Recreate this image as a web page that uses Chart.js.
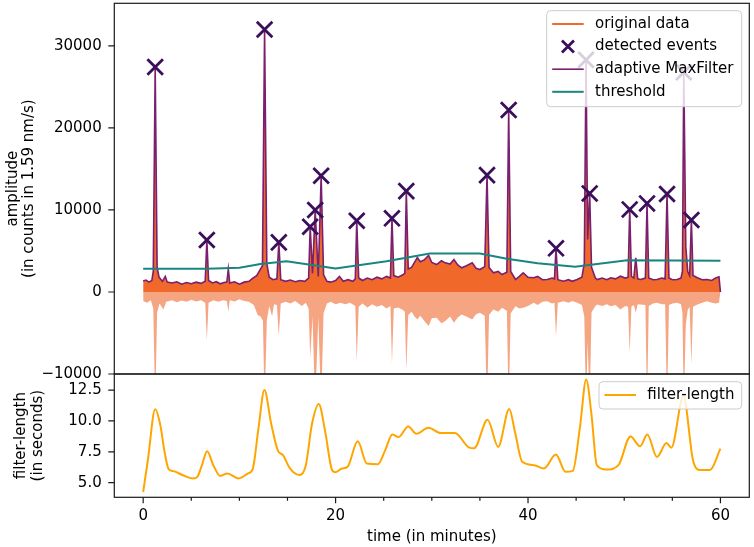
<!DOCTYPE html>
<html>
<head>
<meta charset="utf-8">
<title>adaptive MaxFilter event detection</title>
<script src="https://cdn.jsdelivr.net/npm/chart.js@4.4.1/dist/chart.umd.min.js"></script>
<style>
  html, body { margin: 0; padding: 0; background: #fff; }
  #wrap { position: relative; width: 754px; height: 547px; }
  #wrap canvas { position: absolute; left: 0; top: 0; }
</style>
</head>
<body>
<div id="wrap">
  <canvas id="amplitudeChart" width="754" height="547"></canvas>
  <canvas id="filterChart" width="754" height="547"></canvas>
</div>
<script>
// Dados (tempo em minutos)

// envelope superior do sinal = adaptive MaxFilter  [minuto, amplitude]
const maxFilterAmp = [
  [0.0, 1350], [0.3, 1450], [0.6, 1200], [0.9, 1400], [1.05, 2500], [1.25, 27400], [1.45, 3000], [1.65, 1800],
  [2.0, 1300], [2.3, 1900], [2.5, 1200], [3.0, 1100], [3.5, 1250], [4.0, 950], [4.5, 1150], [5.0, 1000],
  [5.5, 1200], [6.0, 1050], [6.45, 1300], [6.62, 6330], [6.8, 1400], [7.2, 1100], [7.6, 1250], [8.0, 1000],
  [8.4, 1150], [8.7, 1200], [8.85, 2800], [9.0, 1100], [9.5, 1250], [10.0, 950], [10.5, 1200], [11.0, 1300],
  [11.4, 1700], [11.8, 2000], [12.1, 2600], [12.4, 3200], [12.62, 32000], [12.85, 3500], [13.1, 1800], [13.5, 1500],
  [13.9, 1600], [14.1, 6050], [14.3, 1500], [14.8, 1300], [15.3, 1450], [15.8, 1250], [16.3, 1400], [16.8, 1300],
  [17.2, 1700], [17.36, 7950], [17.6, 2300], [17.88, 10000], [18.2, 1900], [18.5, 14170], [18.75, 2100], [19.1, 1300],
  [19.5, 1200], [20.0, 1400], [20.4, 1900], [20.8, 1300], [21.3, 1500], [21.8, 1300], [22.05, 1600], [22.2, 8690],
  [22.4, 1700], [22.8, 1400], [23.3, 1700], [23.8, 1500], [24.3, 1800], [24.8, 1600], [25.3, 1900], [25.7, 1700],
  [25.86, 8980], [26.05, 2000], [26.5, 1800], [27.0, 2100], [27.2, 2300], [27.35, 12300], [27.55, 2800], [27.9, 3000],
  [28.2, 3600], [28.5, 4200], [28.8, 3700], [29.2, 3900], [29.67, 4450], [30.0, 3600], [30.5, 3350], [31.0, 3800],
  [31.4, 3550], [31.9, 3400], [32.3, 3960], [32.7, 3300], [33.1, 2950], [33.6, 3200], [34.2, 3550], [34.6, 2900],
  [35.0, 2740], [35.5, 3100], [35.74, 14250], [35.95, 3000], [36.4, 2340], [36.9, 2500], [37.3, 2130], [37.8, 2400],
  [37.99, 22200], [38.2, 2500], [38.7, 1520], [39.1, 1900], [39.5, 2340], [40.0, 1800], [40.6, 1730], [41.0, 1900],
  [41.5, 1500], [42.0, 1520], [42.5, 1700], [42.75, 1600], [42.91, 5320], [43.1, 1500], [43.7, 1320], [44.2, 1500],
  [44.6, 1300], [45.1, 1520], [45.6, 1800], [45.85, 3500], [46.03, 28300], [46.2, 6400], [46.41, 12020], [46.6, 3000],
  [47.0, 1700], [47.2, 1520], [47.7, 1700], [48.2, 1500], [48.6, 1730], [49.1, 1600], [49.6, 1930], [50.1, 1700],
  [50.4, 1800], [50.57, 10070], [50.75, 1900], [51.0, 1700], [51.2, 4160], [51.4, 1600], [51.7, 1520], [52.2, 1700],
  [52.37, 10800], [52.55, 1700], [53.0, 1500], [53.4, 1520], [53.9, 1700], [54.25, 1600], [54.45, 11940], [54.65, 1700],
  [55.0, 1500], [55.5, 1520], [55.9, 1700], [56.05, 2500], [56.19, 27000], [56.4, 5500], [56.6, 2500], [56.8, 2000],
  [56.98, 8770], [57.15, 2000], [57.6, 1730], [58.1, 1500], [58.6, 1520], [59.1, 1400], [59.5, 1700], [59.85, 1850],
  [60.0, 0]
];

// envelope inferior do sinal original  [minuto, amplitude]
const negativeAmp = [
  [0.0, -1100], [0.4, -1300], [0.8, -1000], [1.05, -2000], [1.25, -14000], [1.45, -2500], [1.7, -1400], [2.1, -2130],
  [2.4, -1200], [3.0, -1000], [3.5, -1250], [4.0, -1050], [4.5, -1200], [5.0, -950], [5.5, -1150], [6.0, -1000],
  [6.45, -1300], [6.62, -5850], [6.8, -1300], [7.3, -1000], [7.8, -1200], [8.3, -1000], [8.7, -1100], [8.85, -2400],
  [9.0, -1000], [9.5, -1150], [10.0, -900], [10.5, -1100], [11.0, -1200], [11.5, -1600], [11.9, -2800], [12.2, -3000],
  [12.45, -3500], [12.62, -14000], [12.85, -3500], [13.1, -1700], [13.4, -2950], [13.6, -1500], [13.9, -1600], [14.1, -5380],
  [14.3, -1400], [14.8, -1200], [15.3, -1400], [15.8, -1100], [16.5, -1700], [16.9, -1300], [17.2, -2000], [17.36, -8050],
  [17.6, -3000], [17.88, -14000], [18.2, -3000], [18.5, -14000], [18.75, -2600], [19.1, -1400], [19.5, -1200], [20.0, -1500],
  [20.5, -1300], [21.0, -1500], [21.5, -1300], [22.05, -1700], [22.2, -8490], [22.4, -1800], [22.8, -1400], [23.3, -1900],
  [23.8, -1500], [24.3, -1800], [24.8, -1600], [25.3, -2000], [25.7, -1700], [25.86, -8690], [26.05, -2000], [26.5, -1900],
  [27.0, -2200], [27.2, -2400], [27.35, -9600], [27.55, -2800], [27.9, -2400], [28.2, -3000], [28.5, -3350], [28.8, -2900],
  [29.2, -3500], [29.67, -4160], [30.0, -3200], [30.5, -3150], [31.0, -3800], [31.4, -3550], [31.9, -3000], [32.3, -3750],
  [32.7, -3100], [33.1, -2740], [33.6, -3000], [34.2, -3350], [34.6, -2700], [35.0, -2540], [35.5, -2900], [35.74, -14000],
  [35.95, -2800], [36.4, -2130], [36.9, -2400], [37.3, -1930], [37.8, -2300], [37.99, -14000], [38.2, -2600], [38.7, -1730],
  [39.1, -2000], [39.5, -1930], [40.0, -1700], [40.6, -1320], [41.0, -1600], [41.5, -1200], [42.0, -1120], [42.5, -1400],
  [42.75, -1300], [42.91, -5400], [43.1, -1300], [43.7, -1120], [44.2, -1300], [44.6, -1100], [45.1, -1300], [45.6, -1600],
  [45.85, -3000], [46.03, -14000], [46.2, -6000], [46.41, -14000], [46.6, -2500], [47.0, -1700], [47.2, -1520], [47.7, -1700],
  [48.2, -1500], [48.6, -1730], [49.1, -1600], [49.6, -2130], [50.1, -1700], [50.4, -1800], [50.57, -7400], [50.75, -1800],
  [51.0, -1600], [51.2, -2500], [51.4, -1500], [51.7, -1520], [52.2, -1600], [52.37, -14000], [52.55, -1700], [53.0, -1400],
  [53.4, -1320], [53.9, -1500], [54.25, -1500], [54.45, -14000], [54.65, -1600], [55.0, -1400], [55.5, -1320], [55.9, -1500],
  [56.05, -2500], [56.19, -14000], [56.4, -4000], [56.6, -2200], [56.8, -1800], [56.98, -8830], [57.15, -1800], [57.6, -1520],
  [58.1, -1300], [58.6, -1120], [59.1, -1300], [59.5, -1400], [59.85, -1300], [60.0, 0]
];

// eventos detectados
const eventTimes = [1.25, 6.62, 12.62, 14.1, 17.36, 17.88, 18.5, 22.2, 25.86, 27.35,
                    35.74, 37.99, 42.91, 46.03, 46.41, 50.57, 52.37, 54.45, 56.19, 56.98];
const eventAmps = [27440, 6330, 32000, 6050, 7950, 10000, 14170, 8690, 8980, 12300,
                   14250, 22200, 5320, 28300, 12020, 10070, 10800, 11940, 26800, 8770];

// limiar  [minuto, amplitude]
const thresholdAmp = [
  [0, 2830], [6.6, 2830], [10, 2950], [12.2, 3400], [14.9, 3750], [20.0, 2860], [25.3, 3750],
  [29.8, 4700], [35.0, 4700], [37.8, 4050], [41.0, 3500], [44.9, 3070], [50.3, 3870], [60, 3800]
];

// comprimento do filtro  [minuto, segundos]
const filterLength = [
  [0, 4.25], [0.5, 6.9], [1.25, 10.95], [1.8, 9.6], [2.2, 7.6], [2.65, 6.1], [3.15, 5.94], [4.15, 5.6],
  [5.15, 5.35], [5.65, 5.5], [6.1, 6.4], [6.65, 7.55], [7.3, 6.4], [8.0, 5.55], [8.75, 5.75], [9.9, 5.35],
  [10.9, 5.75], [11.4, 6.15], [12.0, 9.5], [12.6, 12.5], [13.3, 9.8], [14.0, 7.6], [14.55, 7.22], [15.15, 6.29],
  [15.65, 5.83], [16.25, 5.62], [16.9, 6.4], [17.55, 9.77], [18.25, 11.38], [18.9, 9.23], [19.65, 6.0], [20.0, 5.85],
  [20.65, 6.15], [21.25, 6.3], [22.3, 8.35], [23.25, 6.55], [24.4, 6.5], [25.15, 7.62], [25.9, 8.9], [26.55, 8.7],
  [27.55, 9.55], [28.4, 8.96], [29.65, 9.45], [30.9, 9.02], [32.4, 9.02], [33.9, 7.84], [34.4, 7.79], [35.8, 10.09],
  [36.9, 7.9], [38.05, 10.97], [38.65, 9.1], [39.4, 6.69], [40.65, 6.42], [41.65, 6.15], [42.9, 7.28], [43.9, 5.88],
  [44.65, 5.96], [45.4, 9.5], [46.05, 13.35], [46.6, 10.5], [47.15, 6.42], [48.15, 6.07], [49.4, 6.42], [50.65, 8.75],
  [51.65, 7.95], [52.4, 8.9], [53.4, 7.09], [54.4, 8.21], [54.9, 7.84], [56.15, 12.0], [57.15, 6.82], [57.9, 6.02],
  [58.9, 6.02], [60, 7.76]
];

// ticks
const timeTicks = [0, 20, 40, 60];
const timeMinorTicks = [5, 10, 15, 25, 30, 35, 45, 50, 55];
const ampTicks = [-10000, 0, 10000, 20000, 30000];
const lengthTicks = [5.0, 7.5, 10.0, 12.5];

// Layout (pixels)
const W = 754, H = 547;
const PLOT_LEFT = 114.3, PLOT_RIGHT = 749.3;
const TOP_Y = 3.3, SPLIT_Y = 374, BOTTOM_Y = 497.3;
const FONT_SIZE = 15;

const COLORS = {
  pos: '#f0692a',
  neg: '#f5a582',
  maxFilter: '#7b1f6f',
  events: '#3b0f5c',
  threshold: '#1a8482',
  filter: '#ffa500'
};

Chart.defaults.font.family = "'DejaVu Sans'";
Chart.defaults.font.size = FONT_SIZE;
Chart.defaults.color = '#000';

const toXY = pairs => pairs.map(([x, y]) => ({ x, y }));

// sem padding automático dos rótulos
function noLabelPadding(s) {
  s.paddingTop = 0; s.paddingBottom = 0; s.paddingLeft = 0; s.paddingRight = 0;
}

function drawLegend(ctx, area, lg) {
  const left = area.right - lg.right - lg.width;
  const top = area.top + lg.top;
  ctx.save();
  ctx.beginPath();
  ctx.roundRect(left, top, lg.width, lg.height, 4);
  ctx.fillStyle = 'rgba(255,255,255,0.8)';
  ctx.fill();
  ctx.strokeStyle = '#cccccc';
  ctx.lineWidth = 1;
  ctx.stroke();
  ctx.font = FONT_SIZE + "px 'DejaVu Sans'";
  ctx.textBaseline = 'middle';
  lg.items.forEach((item, i) => {
    const cy = top + 13.3 + i * 22.6;
    const x0 = left + 5.5, x1 = left + 37;
    ctx.strokeStyle = item.color;
    ctx.lineWidth = item.width;
    ctx.beginPath();
    if (item.marker) {
      const cx = (x0 + x1) / 2, h = 6;
      ctx.moveTo(cx - h, cy - h); ctx.lineTo(cx + h, cy + h);
      ctx.moveTo(cx + h, cy - h); ctx.lineTo(cx - h, cy + h);
    } else {
      ctx.moveTo(x0, cy); ctx.lineTo(x1, cy);
    }
    ctx.stroke();
    ctx.fillStyle = '#000';
    ctx.fillText(item.label, left + 48.3, cy);
  });
  ctx.restore();
}

// moldura, ticks e legenda no estilo matplotlib
const axesFrame = {
  id: 'axesFrame',
  afterDraw(chart, args, opts) {
    const { ctx, chartArea: area, scales } = chart;
    ctx.save();
    ctx.strokeStyle = '#1a1a1a';
    ctx.lineWidth = 1.2;
    ctx.beginPath();
    scales.y.ticks.forEach(t => {
      const py = scales.y.getPixelForValue(t.value);
      ctx.moveTo(area.left - 6, py);
      ctx.lineTo(area.left, py);
    });
    if (opts.xTicks) {
      timeTicks.forEach(v => {
        const px = scales.x.getPixelForValue(v);
        ctx.moveTo(px, area.bottom);
        ctx.lineTo(px, area.bottom + 6);
      });
      timeMinorTicks.forEach(v => {
        const px = scales.x.getPixelForValue(v);
        ctx.moveTo(px, area.bottom);
        ctx.lineTo(px, area.bottom + 3.5);
      });
    }
    ctx.stroke();
    ctx.strokeRect(area.left, area.top, area.right - area.left, area.bottom - area.top);
    ctx.restore();
    drawLegend(ctx, area, opts.legend);
  }
};

const hiddenGrid = { display: true, drawOnChartArea: false, drawTicks: true, tickLength: 6, color: 'rgba(0,0,0,0)' };

// Gráfico superior: amplitude
new Chart(document.getElementById('amplitudeChart'), {
  type: 'line',
  data: {
    datasets: [
      { label: 'original data (neg)', data: toXY(negativeAmp), fill: 'origin', backgroundColor: COLORS.neg,
        borderWidth: 0, pointRadius: 0, order: 5 },
      { label: 'original data', data: toXY(maxFilterAmp), fill: 'origin', backgroundColor: COLORS.pos,
        borderWidth: 0, pointRadius: 0, order: 4 },
      { label: 'adaptive MaxFilter', data: toXY(maxFilterAmp), fill: false, borderColor: COLORS.maxFilter,
        borderWidth: 1.6, pointRadius: 0, order: 3 },
      { label: 'threshold', data: toXY(thresholdAmp), fill: false, borderColor: COLORS.threshold,
        borderWidth: 2, pointRadius: 0, order: 2 },
      { label: 'detected events', data: eventTimes.map((t, i) => ({ x: t, y: eventAmps[i] })), showLine: false,
        pointStyle: 'crossRot', pointRadius: 11, pointBorderWidth: 2.8, pointBorderColor: COLORS.events,
        pointBackgroundColor: 'rgba(0,0,0,0)', order: 1 }
    ]
  },
  options: {
    responsive: false,
    animation: false,
    events: [],
    layout: { autoPadding: false, padding: { left: 0, right: W - PLOT_RIGHT, top: TOP_Y, bottom: H - SPLIT_Y } },
    scales: {
      x: {
        type: 'linear', min: -3, max: 63,
        afterFit: s => { s.height = 0; noLabelPadding(s); },
        grid: { display: false, drawTicks: false },
        border: { display: false },
        ticks: { display: false }
      },
      y: {
        type: 'linear', min: -10000, max: 35200,
        afterFit: s => { s.width = PLOT_LEFT; noLabelPadding(s); },
        afterBuildTicks: s => { s.ticks = ampTicks.map(v => ({ value: v })); },
        grid: hiddenGrid,
        border: { display: false },
        ticks: { padding: 6.6, callback: v => (v < 0 ? '\u2212' + Math.abs(v) : String(v)) },
        title: { display: true, text: ['amplitude', '(in counts in 1.59 nm/s)'],
                 font: { size: FONT_SIZE, lineHeight: 1.1 }, padding: { top: 4.5, bottom: 0 } }
      }
    },
    plugins: {
      legend: { display: false },
      tooltip: { enabled: false },
      axesFrame: {
        xTicks: false,
        legend: {
          right: 7.6, top: 7.4, width: 195, height: 96,
          items: [
            { label: 'original data', color: '#f06a2d', width: 2 },
            { label: 'detected events', color: COLORS.events, width: 2.8, marker: true },
            { label: 'adaptive MaxFilter', color: COLORS.maxFilter, width: 1.6 },
            { label: 'threshold', color: COLORS.threshold, width: 2 }
          ]
        }
      }
    }
  },
  plugins: [axesFrame]
});

// Gráfico inferior: comprimento do filtro
new Chart(document.getElementById('filterChart'), {
  type: 'line',
  data: {
    datasets: [
      { label: 'filter-length', data: toXY(filterLength), fill: false, borderColor: COLORS.filter,
        borderWidth: 2, pointRadius: 0, cubicInterpolationMode: 'monotone' }
    ]
  },
  options: {
    responsive: false,
    animation: false,
    events: [],
    layout: { autoPadding: false, padding: { left: 0, right: W - PLOT_RIGHT, top: SPLIT_Y, bottom: 0 } },
    scales: {
      x: {
        type: 'linear', min: -3, max: 63,
        afterFit: s => { s.height = H - BOTTOM_Y; noLabelPadding(s); },
        afterBuildTicks: s => { s.ticks = timeTicks.map(v => ({ value: v })); },
        grid: hiddenGrid,
        border: { display: false },
        ticks: { padding: 4.0, maxRotation: 0, autoSkip: false, callback: v => String(v) },
        title: { display: true, text: 'time (in minutes)', font: { size: FONT_SIZE, lineHeight: 1.2 },
                 padding: { top: 0, bottom: 1.2 } }
      },
      y: {
        type: 'linear', min: 3.82, max: 13.8,
        afterFit: s => { s.width = PLOT_LEFT; noLabelPadding(s); },
        afterBuildTicks: s => { s.ticks = lengthTicks.map(v => ({ value: v })); },
        grid: hiddenGrid,
        border: { display: false },
        ticks: { padding: 6.6, callback: v => v.toFixed(1) },
        title: { display: true, text: ['filter-length', '(in seconds)'],
                 font: { size: FONT_SIZE, lineHeight: 1.1 }, padding: { top: 13, bottom: 0 } }
      }
    },
    plugins: {
      legend: { display: false },
      tooltip: { enabled: false },
      axesFrame: {
        xTicks: true,
        legend: {
          right: 7.6, top: 7.7, width: 142.7, height: 27.3,
          items: [{ label: 'filter-length', color: COLORS.filter, width: 2 }]
        }
      }
    }
  },
  plugins: [axesFrame]
});
</script>
</body>
</html>
